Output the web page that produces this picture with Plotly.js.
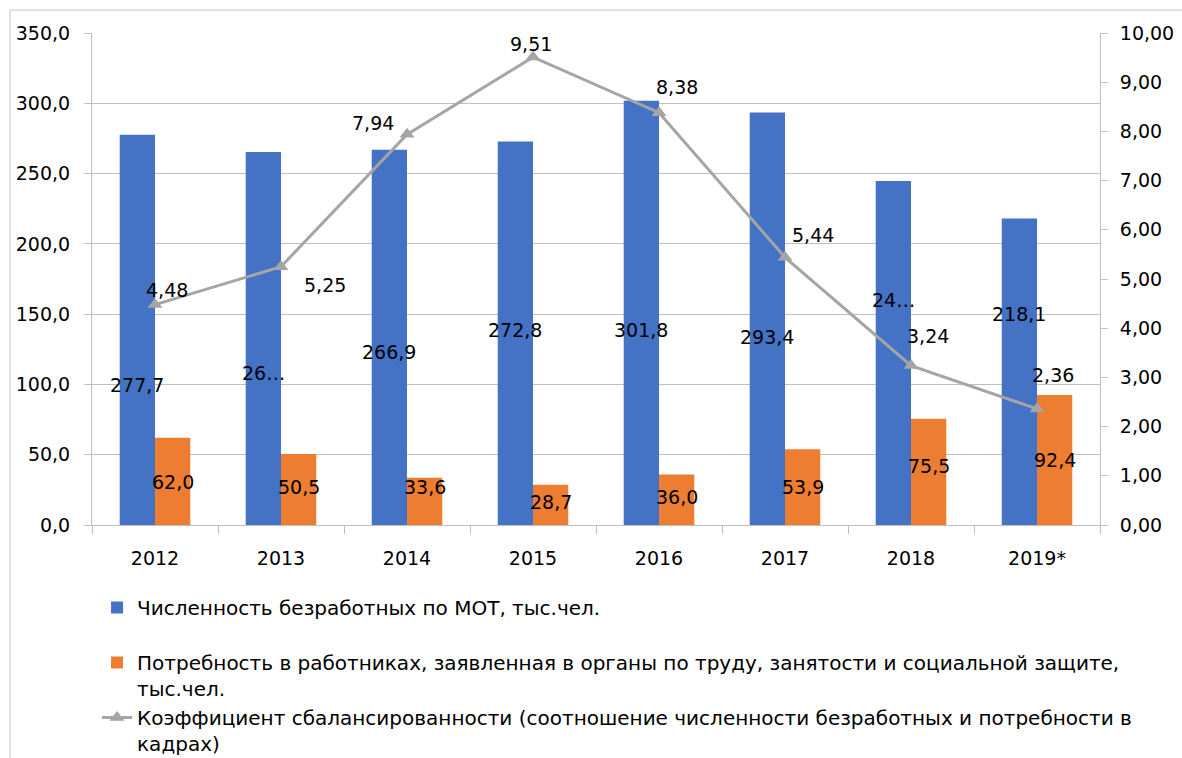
<!DOCTYPE html>
<html>
<head>
<meta charset="utf-8">
<script src="https://cdn.plot.ly/plotly-3.0.1.min.js"></script>
<style>
  html, body { margin: 0; padding: 0; background: #fff; }
  #chart { width: 1182px; height: 758px; }
</style>
</head>
<body>
<div id="chart"></div>
<script>
// ---- data ----
var years = ['2012', '2013', '2014', '2015', '2016', '2017', '2018', '2019*'];
var unemployed = [277.7, 265.3, 266.9, 272.8, 301.8, 293.4, 244.7, 218.1];
var demand = [62.0, 50.5, 33.6, 28.7, 36.0, 53.9, 75.5, 92.4];
var ratio = [4.48, 5.25, 7.94, 9.51, 8.38, 5.44, 3.24, 2.36];
var unemployedLabels = ['277,7', '26…', '266,9', '272,8', '301,8', '293,4', '24…', '218,1'];

var seriesNames = [
  'Численность безработных по МОТ, тыс.чел.<br> ',
  'Потребность в работниках, заявленная в органы по труду, занятости и социальной защите,<br>тыс.чел.',
  'Коэффициент сбалансированности (соотношение численности безработных и потребности в<br>кадрах)'
];

// ---- label placement (data-label anchors, as in the source chart) ----
var blueLabelY = [99.6, 108.1, 123.1, 138.7, 138.7, 133.7, 160.1, 150.1];
var orangeLabelY = [30.6, 27.0, 27.0, 16.4, 19.9, 27.0, 42.0, 46.2];
var ratioLabelDX = [0.095, 0.35, -0.27, -0.016, 0.14, 0.22, 0.135, 0.13];
var ratioLabelY = [4.78, 4.88, 8.17, 9.78, 8.90, 5.89, 3.84, 3.05];

function fmt(v, d) { return v.toFixed(d).replace('.', ','); }

var FONT = 'DejaVu Sans, Noto Sans, sans-serif';
var BLUE = '#4472C4', ORANGE = '#ED7D31', GRAY = '#A5A5A5', GRID = '#BFBFBF';

var traces = [
  { type: 'bar', x: years, y: unemployed, name: seriesNames[0],
    marker: { color: BLUE }, hoverinfo: 'y' },
  { type: 'bar', x: years, y: demand, name: seriesNames[1],
    marker: { color: ORANGE }, hoverinfo: 'y' },
  { type: 'scatter', mode: 'lines+markers', x: years, y: ratio, yaxis: 'y2',
    name: seriesNames[2],
    line: { color: GRAY, width: 3 },
    marker: { symbol: 'triangle-up', size: 13, color: GRAY } }
];

var annotations = [];
for (var i = 0; i < years.length; i++) {
  annotations.push({ x: i - 0.14, y: blueLabelY[i], xref: 'x', yref: 'y',
    text: unemployedLabels[i], showarrow: false,
    font: { family: FONT, size: 19, color: '#000' } });
  annotations.push({ x: i + 0.14, y: orangeLabelY[i], xref: 'x', yref: 'y',
    text: fmt(demand[i], 1), showarrow: false,
    font: { family: FONT, size: 19, color: '#000' } });
  annotations.push({ x: i + ratioLabelDX[i], y: ratioLabelY[i], xref: 'x', yref: 'y2',
    text: fmt(ratio[i], 2), showarrow: false,
    font: { family: FONT, size: 19, color: '#000' } });
}

var layout = {
  width: 1182, height: 758,
  margin: { l: 92, r: 82, t: 33, b: 233 },
  paper_bgcolor: '#fff', plot_bgcolor: '#fff',
  separators: ', ',
  font: { family: FONT, size: 19, color: '#000' },
  barmode: 'group', bargap: 0.44, bargroupgap: 0,
  showlegend: true,
  legend: { orientation: 'v', xref: 'paper', yref: 'container',
    x: 0.005, xanchor: 'left', y: 0.2243, yanchor: 'top',
    valign: 'top', traceorder: 'normal', itemwidth: 30,
    font: { family: FONT, size: 20, color: '#000' }, bgcolor: 'rgba(0,0,0,0)' },
  xaxis: { type: 'category', range: [-0.5, 7.5], showgrid: false,
    showline: true, linecolor: GRID, linewidth: 1,
    ticks: 'outside', tickson: 'boundaries', ticklen: 8, tickcolor: GRID,
    ticklabelstandoff: 16,
    tickfont: { family: FONT, size: 19, color: '#000' }, fixedrange: true },
  yaxis: { range: [0, 350], dtick: 50, tickformat: '.1f',
    showgrid: true, gridcolor: GRID, gridwidth: 1,
    showline: true, linecolor: GRID, zeroline: false,
    ticks: 'outside', ticklen: 7, tickcolor: GRID, ticklabelstandoff: 10,
    tickfont: { family: FONT, size: 19, color: '#000' }, fixedrange: true },
  yaxis2: { range: [0, 10], dtick: 1, tickformat: '.2f', overlaying: 'y', side: 'right',
    showgrid: false, showline: true, linecolor: GRID, zeroline: false,
    ticks: 'outside', ticklen: 7, tickcolor: GRID, ticklabelstandoff: 8,
    tickfont: { family: FONT, size: 19, color: '#000' }, fixedrange: true },
  annotations: annotations,
  shapes: [
    { type: 'rect', xref: 'paper', yref: 'paper',
      x0: -0.0813, x1: 1.2, y0: -1, y1: 1.0467,
      line: { color: '#D9D9D9', width: 1.5 }, fillcolor: 'rgba(0,0,0,0)', layer: 'below' }
  ]
};

Plotly.newPlot('chart', traces, layout, { displayModeBar: false, staticPlot: true });
</script>
</body>
</html>
